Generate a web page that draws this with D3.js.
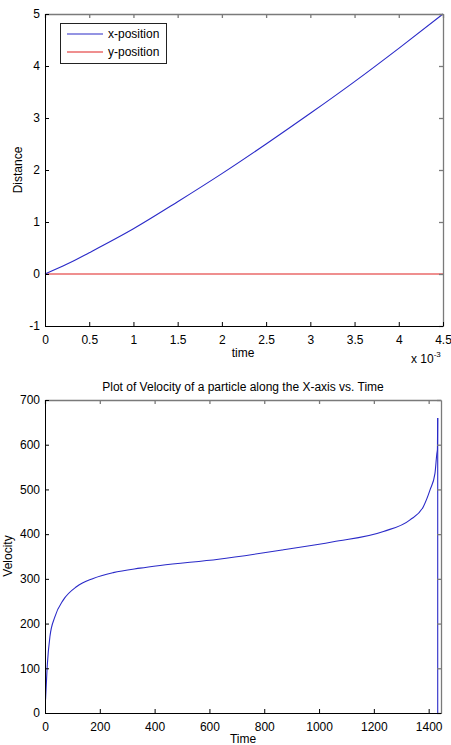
<!DOCTYPE html>
<html>
<head>
<meta charset="utf-8">
<script src="https://cdn.jsdelivr.net/npm/d3@7"></script>
<style>
  html, body { margin: 0; padding: 0; background: #fff; }
  svg text { font-family: "Liberation Sans", Arial, sans-serif; font-size: 12px; fill: #000; }
</style>
</head>
<body>
<div id="chart"></div>
<script>
// ---- top plot: position vs time (time in units of 1e-3 s) ----
const posTime = [0, 0.25, 0.5, 1, 1.5, 2, 2.5, 3, 3.5, 4, 4.5];
const xPos    = [0, 0.19, 0.41, 0.87, 1.39, 1.93, 2.5, 3.09, 3.7, 4.34, 5.0];
const yPosTime = [0, 4.5];
const yPos     = [0, 0];
const posXTicks = [0, 0.5, 1, 1.5, 2, 2.5, 3, 3.5, 4, 4.5];
const posYTicks = [-1, 0, 1, 2, 3, 4, 5];
const legendLabels = ["x-position", "y-position"];

// ---- bottom plot: velocity vs time ----
const velTime = [2, 8, 18, 36, 67, 116, 176, 249, 347, 420, 633, 870, 1052, 1235, 1332, 1381, 1405, 1423, 1430, 1432, 1433, 1433];
const velVal  = [30, 104, 171, 215, 253, 283, 301, 314, 324, 330, 344, 365, 383, 406, 432, 462, 499, 536, 581, 590, 660, 0];
const velXTicks = [0, 200, 400, 600, 800, 1000, 1200, 1400];
const velYTicks = [0, 100, 200, 300, 400, 500, 600, 700];

const W = 451, H = 745;
const svg = d3.select("#chart").append("svg")
    .attr("width", W)
    .attr("height", H);
svg.append("rect").attr("width", W).attr("height", H).attr("fill", "#fff");

// draws a matlab style box with inward ticks on all four sides
function drawBox(x, y, xTicks, yTicks) {
    const [x0, x1] = x.range();
    const [y0, y1] = y.range(); // y0 bottom, y1 top
    const fmt = d => String(d);

    svg.append("g")
        .attr("transform", `translate(0,${y1})`)
        .call(d3.axisTop(x).tickValues(xTicks).tickSize(-4).tickSizeOuter(0).tickFormat(""))
        .call(g => g.selectAll("path,line").attr("stroke", "#7a7a7a").attr("stroke-width", 1.3));
    svg.append("g")
        .attr("transform", `translate(${x1},0)`)
        .call(d3.axisRight(y).tickValues(yTicks).tickSize(-4).tickSizeOuter(0).tickFormat(""))
        .call(g => g.selectAll("path,line").attr("stroke", "#7a7a7a").attr("stroke-width", 1.3));

    svg.append("g")
        .attr("transform", `translate(0,${y0})`)
        .call(d3.axisBottom(x).tickValues(xTicks).tickSize(-4).tickSizeOuter(0).tickPadding(9).tickFormat(fmt))
        .call(g => g.selectAll("path,line").attr("stroke", "#000"))
        .call(g => g.selectAll("text").attr("font-size", null).attr("font-family", null));
    svg.append("g")
        .attr("transform", `translate(${x0},0)`)
        .call(d3.axisLeft(y).tickValues(yTicks).tickSize(-4).tickSizeOuter(0).tickPadding(5).tickFormat(fmt))
        .call(g => g.selectAll("path,line").attr("stroke", "#000"))
        .call(g => g.selectAll("text").attr("font-size", null).attr("font-family", null));
}

// ================= top plot =================
const x1s = d3.scaleLinear().domain([0, 4.5]).range([45, 443]);
const y1s = d3.scaleLinear().domain([-1, 5]).range([326, 14]);

const line1 = d3.line()
    .x(d => x1s(d[0]))
    .y(d => y1s(d[1]));

svg.append("path")
    .datum(yPosTime.map((t, i) => [t, yPos[i]]))
    .attr("fill", "none")
    .attr("stroke", "#e02020")
    .attr("stroke-width", 1.2)
    .attr("d", line1);

svg.append("path")
    .datum(posTime.map((t, i) => [t, xPos[i]]))
    .attr("fill", "none")
    .attr("stroke", "#2a2ac8")
    .attr("stroke-width", 1.1)
    .attr("d", line1.curve(d3.curveMonotoneX));

drawBox(x1s, y1s, posXTicks, posYTicks);

// legend
const leg = svg.append("g");
leg.append("rect")
    .attr("x", 60.5).attr("y", 23.5)
    .attr("width", 106).attr("height", 40)
    .attr("fill", "#fff")
    .attr("stroke", "#222");
const legColors = ["#2a2ac8", "#e02020"];
legendLabels.forEach((lab, i) => {
    const ly = 34 + i * 18;
    leg.append("line")
        .attr("x1", 67).attr("x2", 103)
        .attr("y1", ly).attr("y2", ly)
        .attr("stroke", legColors[i])
        .attr("stroke-width", 1.2);
    leg.append("text")
        .attr("x", 108).attr("y", ly + 4)
        .text(lab);
});

svg.append("text")
    .attr("x", 243).attr("y", 357)
    .attr("text-anchor", "middle")
    .text("time");

svg.append("text")
    .attr("transform", "translate(22,170) rotate(-90)")
    .attr("text-anchor", "middle")
    .text("Distance");

// exponent label
const expo = svg.append("text").attr("x", 411).attr("y", 363);
expo.append("tspan").text("x 10");
expo.append("tspan").attr("dy", -6).attr("font-size", "8px").text("-3");

// ================= bottom plot =================
const x2s = d3.scaleLinear().domain([0, 1445]).range([45, 441]);
const y2s = d3.scaleLinear().domain([0, 700]).range([713, 400]);

const velPts = velTime.map((t, i) => [t, velVal[i]]);
const line2 = d3.line().x(d => x2s(d[0])).y(d => y2s(d[1]));

// smooth part up to the spike, then the straight drop back to zero
svg.append("path")
    .datum(velPts.slice(0, -1))
    .attr("fill", "none")
    .attr("stroke", "#2a2ac8")
    .attr("stroke-width", 1.1)
    .attr("d", line2.curve(d3.curveMonotoneX));
svg.append("path")
    .datum(velPts.slice(-2))
    .attr("fill", "none")
    .attr("stroke", "#2a2ac8")
    .attr("stroke-width", 1.1)
    .attr("d", line2.curve(d3.curveLinear));

drawBox(x2s, y2s, velXTicks, velYTicks);

svg.append("text")
    .attr("x", 243).attr("y", 391)
    .attr("text-anchor", "middle")
    .text("Plot of Velocity of a particle along the X-axis vs. Time");

svg.append("text")
    .attr("x", 243).attr("y", 743)
    .attr("text-anchor", "middle")
    .text("Time");

svg.append("text")
    .attr("transform", "translate(12,556) rotate(-90)")
    .attr("text-anchor", "middle")
    .text("Velocity");
</script>
</body>
</html>
